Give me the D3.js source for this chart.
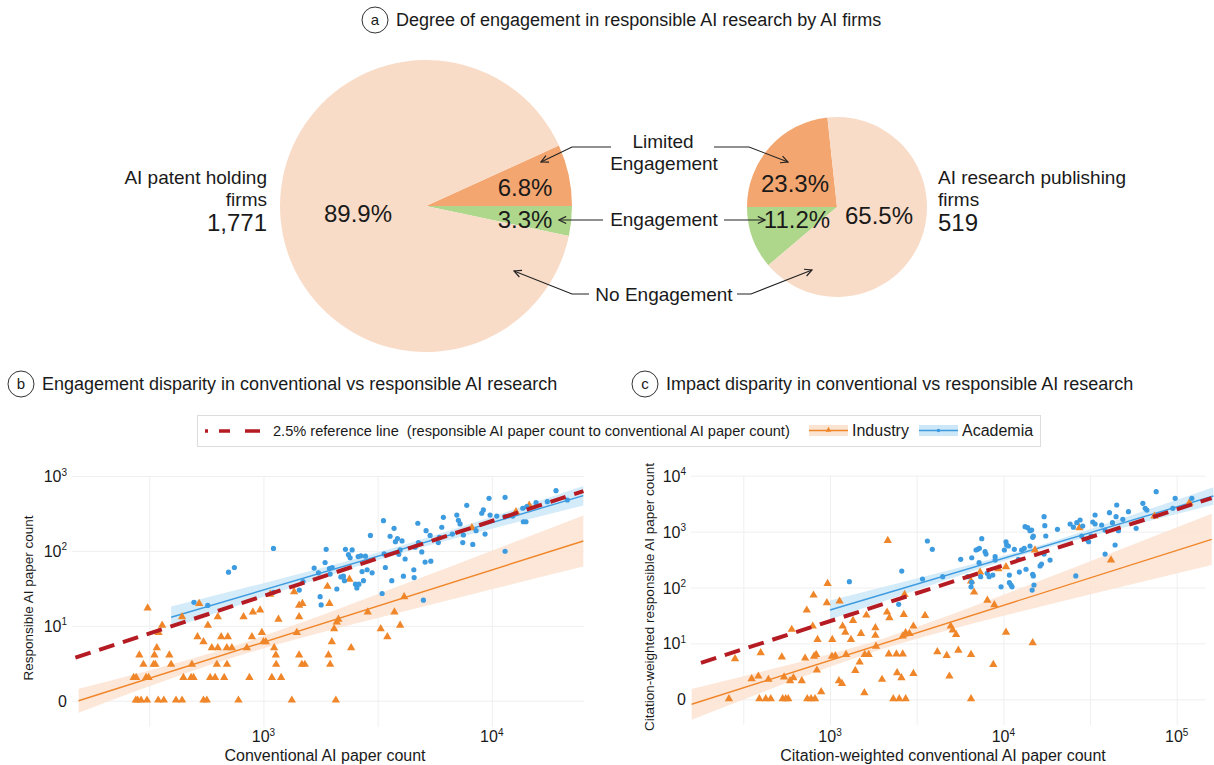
<!DOCTYPE html>
<html>
<head>
<meta charset="utf-8">
<script src="https://cdn.jsdelivr.net/npm/d3@7"></script>
<style>
body { margin: 0; background: #fff; }
svg { display: block; }
text { font-family: "Liberation Sans", Arial, Helvetica, sans-serif; fill: #1a1a1a; }
</style>
</head>
<body>
<svg id="chart" width="1214" height="765"></svg>
<script>
// ---------- data: panel a ----------
var sliceNames = ['Limited Engagement', 'Engagement', 'No Engagement'];
var patentShares = [6.8, 3.3, 89.9];
var publishingShares = [23.3, 11.2, 65.5];
var firmGroups = ['AI patent holding firms', 'AI research publishing firms'];
var firmCounts = ['1,771', '519'];

// ---------- data: panel b (conventional count, responsible count) ----------
var engAcademia = [[1106,107],[703,51],[746,59],[496,19.6],[570,17.7],[1106,27],[1435,29],[1490,38],
  [1667,58],[1741,50],[1862,69],[1882,104],[1771,23.5],[1789,18],[1945,57],[2000,59],[1959,48],[2096,30],
  [2183,44],[2240,45],[2263,39],[2286,104],[2356,88],[2397,80],[2446,102],[2529,35],[2565,31],[2617,35],
  [2598,83],[2670,85],[2704,52],[2741,39],[2797,84],[2845,55],[2941,160],[2992,50],[3353,252],[3377,90],
  [3420,59],[3309,26],[3586,156],[3648,39],[3733,199],[3784,132],[3862,145],[3968,102],[3916,89],[4046,135],
  [4173,77],[4102,45],[4555,55],[4571,43],[4743,233],[4772,128],[4937,96],[5105,70],[5156,185],[5370,160],
  [5408,72],[5018,21],[4613,111],[5834,128],[5897,151],[6040,206],[6138,280],[6723,167],[7029,300],[7143,255],
  [7263,228],[7464,128],[7510,162],[7771,405],[8257,121],[8535,185],[9037,317],[9186,351],[9346,167],[9728,503],
  [9830,300],[10517,291],[11436,518],[11436,285],[11436,98],[12360,291],[13670,370],[13750,244],[14125,244],
  [14230,388],[15630,439],[17515,453],[19120,636],[21430,477]];
var engIndustry = [[276,0],[281,0],[291,0],[309,0],[346,0],[366,0],[414,0],[440,0],[546,0],[565,0],[777,0],[1331,0],[2075,0],
  [270,1],[277,1],[306,1],[314,1],[446,1],[482,1],[494,1],[584,1],[614,1],[673,1],[868,1],[1088,1],[1195,1],
  [298,2],[330,2],[336,2],[394,2],[486,2],[625,2],[692,2],[1137,2],[1473,2],[1518,2],[1959,2],
  [286,3],[333,3],[387,3],[1133,3],[1433,3],[1926,3],
  [341,4],[594,4],[631,4],[691,4],[727,4],[846,4],[1114,4],[2421,4],
  [546,5],[1000,5],[1024,5],[1993,5],
  [514,6],[653,6],[698,6],[890,6],[3488,6],
  [347,7],[984,7],[1400,7],[2040,8],[3262,8],
  [360,9],[571,9],[3968,9],[2095,10],[1163,11],[2130,11],
  [440,12],[631,12],[818,12],[1433,12],[899,14],[2862,14],[3747,14],[967,15],[311,16],
  [1433,17.5],[523,18.5],[1481,18.5],[1946,18.5],[4133,23],[1070,25],[1362,27],[1907,32],[2380,40],
  [8184,199],[12760,326],[14590,400]];
// fitted lines and confidence bands: [x, fit, low, high]
var engIndustryFit = [[155,0,-0.445,0.445],[316,0.99,0.56,1.54],[708,3.33,2.64,4.14],[1585,8.42,6.38,11.0],
  [3981,21.9,14.2,33.4],[10000,54.6,29.7,99.6],[25180,134.6,60.9,295.5]];
var engAcademiaFit = [[394,12.0,8.31,17.07],[1000,28.96,23.2,36.1],[3548,92.5,82.4,104],
  [10000,236.7,196,285.4],[25180,545,403.6,735]];

// ---------- data: panel c (citation-weighted) ----------
var impAcademia = [[1293,126],[2593,196],[2489,49],[3644,678],[3891,481],[3416,141],[4467,155],[5675,318],
  [6231,155],[6572,340],[6572,123],[6510,102],[6958,468],[7112,481],[7271,502],[7504,745],[7244,277],[7396,155],
  [7842,436],[7940,396],[8070,178],[8280,155],[8690,166],[8966,309],[8966,355],[9700,102],[10135,468],[10360,658],
  [10447,575],[10690,552],[10830,166],[10830,121],[11070,110],[11220,102],[11570,481],[12200,318],[12360,188],
  [12750,468],[13200,502],[13510,211],[13340,1223],[13810,1174],[14250,1037],[14560,1066],[14890,834],[14760,788],
  [14250,552],[14760,171],[14890,160],[15020,110],[14660,89],[17180,1848],[17340,1275],[17570,834],[17180,396],
  [16290,242],[16600,262],[18600,309],[20510,1096],[24270,1367],[25360,1199],[26170,160],[26510,1442],[27720,1612],
  [28710,1259],[28320,834],[32800,1485],[33820,1367],[32070,834],[33820,1981],[30270,727],[31050,658],[36900,1312],
  [38630,396],[38630,1066],[40920,2177],[42590,1442],[44120,575],[44690,1848],[45090,2990],[46120,1037],[48870,1659],
  [52700,2270],[58350,1145],[63800,3207],[65800,2605],[67300,2430],[76150,5170],[98000,3943],[95000,2605],[122300,3943]];
var impIndustry = [[261,0],[391,0],[426,0],[455,0],[533,0],[555,0],[574,0],[739,0],[777,0],[819,0],[2318,0],[2508,0],[2731,0],[6510,0],
  [283,4.2],[353,1.28],[398,5.65],[441,1.22],[386,1.54],[527,4.57],[543,1.45],[588,1.09],[615,1.38],[601,16.4],
  [687,1.09],[718,4.33],[734,37.5],[803,70.3],[795,18.9],[809,4.78],[832,5.2],[840,2.25],[847,10.5],[889,0.33],
  [959,51],[968,114],[1030,10.5],[1026,4.78],[1072,4.9],[1135,54.7],[1126,1.09],[1172,0.88],[1182,18.9],[1225,14.5],
  [1237,5.2],[1321,10.5],[1357,24.2],[1399,2.2],[1482,3.52],[1509,13.7],[1578,0.28],[1585,5.2],[1621,30.3],
  [1672,5.2],[1827,12.6],[1827,17.6],[1842,7.7],[1995,1.22],[2133,34.4],[2153,678],[2201,27.1],[2183,5.3],
  [2416,5.3],[2437,1.92],[2582,1.38],[2628,5.3],[2662,31.2],[2628,12.2],[2729,14.1],[2692,72.4],[3027,18.9],
  [3027,1.84],[2871,13.7],[3532,29.9],[4161,5.93],[4714,4.96],[4884,1.54],[4970,18.9],[5105,15.9],[5337,13.1],
  [5500,6.4],[6510,5.2],[6510,126],[6776,79.7],[7337,183],[8087,57],[8750,3.1],[8870,47],[9360,211],[10360,229],
  [10360,14.5],[14760,9.04],[15220,456],[27470,1145],[41780,301],[74420,1848],[118400,3207]];
var impIndustryFit = [[159,-0.227,-1.312,0.535],[398,1.007,0.302,2.094],[1000,3.966,2.814,5.466],[1995,8.79,6.96,11.05],
  [5012,23.3,16.97,31.8],[15850,74.2,43.2,127],[50120,232,105,513],[159200,727,252,2093]];
var impAcademiaFit = [[1000,38.6,25.8,57.6],[3162,113.6,89.7,143.7],[14125,454,414,498],
  [50120,1461,1192,1792],[162900,4334,3012,6236]];

var refRatio = 0.025;
var yTickLabels = ['0', '10|1', '10|2', '10|3', '10|4'];

// ---------- colours ----------
var sliceColors = { 'Limited Engagement': '#f3a66f', 'Engagement': '#afd78c', 'No Engagement': '#f9dcc8' };
var cInd = '#f0862a', cIndBand = '#fbe3d2', cAca = '#3d9be0', cAcaBand = '#cce7f8', cRef = '#b51b22';

var svg = d3.select('#chart');

// ---------- panel labels ----------
function panelTitle(cx, cy, letter, title) {
	svg.append('circle').attr('cx', cx).attr('cy', cy).attr('r', 13)
		.attr('fill', 'none').attr('stroke', '#333').attr('stroke-width', 1);
	svg.append('text').attr('x', cx).attr('y', cy + 5).attr('text-anchor', 'middle')
		.attr('font-size', '15px').text(letter);
	svg.append('text').attr('x', cx + 21).attr('y', cy + 6).attr('font-size', '18px').text(title);
}
panelTitle(375, 20, 'a', 'Degree of engagement in responsible AI research by AI firms');
panelTitle(21, 384, 'b', 'Engagement disparity in conventional vs responsible AI research');
panelTitle(645, 384, 'c', 'Impact disparity in conventional vs responsible AI research');

// ---------- pies ----------
function drawPie(cx, cy, r, shares, order, startAngle, labelPos) {
	var data = order.map(function(i){ return { name: sliceNames[i], value: shares[i], idx: i }; });
	var pie = d3.pie().sort(null).value(function(d){ return d.value; })
		.startAngle(startAngle).endAngle(startAngle + 2 * Math.PI);
	var arc = d3.arc().innerRadius(0).outerRadius(r);
	var g = svg.append('g').attr('transform', 'translate(' + cx + ',' + cy + ')');
	g.selectAll('path').data(pie(data)).enter().append('path')
		.attr('d', arc).attr('fill', function(d){ return sliceColors[d.data.name]; });
	g.selectAll('text.pct').data(data).enter().append('text')
		.attr('class', 'pct')
		.attr('x', function(d){ return labelPos[d.idx][0]; })
		.attr('y', function(d){ return labelPos[d.idx][1] + 8.5; })
		.attr('text-anchor', 'middle').attr('font-size', '24px')
		.text(function(d){ return d.value.toFixed(1) + '%'; });
}
// left pie: slices meet at 3 o'clock
drawPie(426, 206, 146, patentShares, [0, 1, 2], Math.PI / 2 - 2 * Math.PI * patentShares[0] / 100,
	[[99, -19], [99, 13], [-68, 7]]);
// right pie: slices meet at 9 o'clock
drawPie(837, 207, 90, publishingShares, [1, 0, 2], 1.5 * Math.PI - 2 * Math.PI * publishingShares[1] / 100,
	[[-42, -24], [-40, 12], [42, 8]]);

// group labels
svg.append('text').attr('x', 267).attr('y', 184).attr('text-anchor', 'end').attr('font-size', '19px').text('AI patent holding');
svg.append('text').attr('x', 267).attr('y', 206).attr('text-anchor', 'end').attr('font-size', '19px').text('firms');
svg.append('text').attr('x', 267).attr('y', 231).attr('text-anchor', 'end').attr('font-size', '24px').text(firmCounts[0]);
svg.append('text').attr('x', 938).attr('y', 184).attr('font-size', '19px').text('AI research publishing');
svg.append('text').attr('x', 938).attr('y', 206).attr('font-size', '19px').text('firms');
svg.append('text').attr('x', 938).attr('y', 231).attr('font-size', '24px').text(firmCounts[1]);

// slice legend labels with arrows
svg.append('defs').append('marker').attr('id', 'arr')
	.attr('viewBox', '0 0 10 10').attr('refX', 9).attr('refY', 5)
	.attr('markerWidth', 9).attr('markerHeight', 9).attr('markerUnits', 'userSpaceOnUse')
	.attr('orient', 'auto')
	.append('path').attr('d', 'M1,1 L9,5 L1,9').attr('fill', 'none').attr('stroke', '#222').attr('stroke-width', 1.3);

var midLabels = [['Limited', 663, 148], ['Engagement', 664, 170], ['Engagement', 664, 226], ['No Engagement', 664, 301]];
svg.selectAll('text.mid').data(midLabels).enter().append('text').attr('class', 'mid')
	.attr('x', function(d){ return d[1]; }).attr('y', function(d){ return d[2]; })
	.attr('text-anchor', 'middle').attr('font-size', '19px').text(function(d){ return d[0]; });

var arrowPaths = ['M611,147 H572 L541,162', 'M714,147 H749 L788,162', 'M603,220 H559', 'M724,220 H765',
	'M589,294 H572 L514,271', 'M737,294 H751 L812,270'];
svg.selectAll('path.arrow').data(arrowPaths).enter().append('path').attr('class', 'arrow')
	.attr('d', function(d){ return d; }).attr('fill', 'none').attr('stroke', '#222').attr('stroke-width', 1.1)
	.attr('marker-end', 'url(#arr)');

// ---------- legend ----------
var lg = svg.append('g');
lg.append('rect').attr('x', 197.5).attr('y', 415.5).attr('width', 843).attr('height', 31)
	.attr('fill', '#fff').attr('stroke', '#dcdcdc').attr('stroke-width', 1);
lg.append('line').attr('x1', 205).attr('x2', 260).attr('y1', 431).attr('y2', 431)
	.attr('stroke', cRef).attr('stroke-width', 3.5).attr('stroke-dasharray', '3 11 11 15 15');
lg.append('text').attr('x', 273).attr('y', 436).attr('font-size', '14.6px').style('white-space', 'pre')
	.text('2.5% reference line  (responsible AI paper count to conventional AI paper count)');
function legendSwatch(x, band, col, label, tri) {
	lg.append('rect').attr('x', x).attr('y', 425).attr('width', 39).attr('height', 11).attr('fill', band);
	lg.append('line').attr('x1', x).attr('x2', x + 39).attr('y1', 430.5).attr('y2', 430.5).attr('stroke', col).attr('stroke-width', 1.5);
	if (tri) lg.append('path').attr('d', d3.symbol(d3.symbolTriangle, 14)()).attr('transform', 'translate(' + (x + 19.5) + ',430)').attr('fill', col);
	else lg.append('circle').attr('cx', x + 19.5).attr('cy', 430.5).attr('r', 1.8).attr('fill', col);
	lg.append('text').attr('x', x + 43).attr('y', 436).attr('font-size', '16px').text(label);
}
legendSwatch(809, cIndBand, cInd, 'Industry', true);
legendSwatch(919, cAcaBand, cAca, 'Academia', false);

// ---------- scatter panels ----------
function supLabel(sel, lab) {
	var parts = lab.split('|');
	sel.append('tspan').text(parts[0]);
	if (parts.length > 1) sel.append('tspan').attr('dy', '-0.65em').attr('font-size', '10px').text(parts[1]);
}

function scatterPanel(cfg) {
	var x = d3.scaleLog().domain(cfg.xDomain).range([cfg.left, cfg.right]);
	var y = d3.scaleSymlog().constant(1).domain(cfg.yDomain).range([cfg.bottom, cfg.top]);
	var g = svg.append('g');

	// grid
	g.append('g').attr('transform', 'translate(0,' + cfg.bottom + ')')
		.call(d3.axisBottom(x).tickValues(cfg.xGrid).tickSize(-(cfg.bottom - cfg.top)).tickFormat(''))
		.call(function(a){ a.select('.domain').remove(); a.selectAll('line').attr('stroke', '#efefef'); });
	g.append('g').attr('transform', 'translate(' + cfg.left + ',0)')
		.call(d3.axisLeft(y).tickValues(cfg.yTicks).tickSize(-(cfg.gridRight - cfg.left)).tickFormat(''))
		.call(function(a){ a.select('.domain').remove(); a.selectAll('line').attr('stroke', '#efefef'); });

	// tick labels
	g.selectAll('text.yl').data(cfg.yTicks).enter().append('text').attr('class', 'yl')
		.attr('x', cfg.left - 5).attr('y', function(d){ return y(d) + 6; })
		.attr('text-anchor', 'end').attr('font-size', '16px')
		.each(function(d, i){ supLabel(d3.select(this), yTickLabels[i]); });
	g.selectAll('text.xl').data(cfg.xTicks).enter().append('text').attr('class', 'xl')
		.attr('x', function(d){ return x(d); }).attr('y', 742)
		.attr('text-anchor', 'middle').attr('font-size', '16px')
		.each(function(d){ supLabel(d3.select(this), '10|' + Math.round(Math.log10(d))); });

	// axis titles
	g.append('text').attr('x', cfg.xTitleX).attr('y', 761).attr('text-anchor', 'middle')
		.attr('font-size', '16px').text(cfg.xTitle);
	g.append('text').attr('transform', 'translate(' + cfg.yTitleX + ',' + cfg.yTitleY + ') rotate(-90)')
		.attr('text-anchor', 'middle').attr('font-size', '13.5px').text(cfg.yTitle);

	// bands and fits
	var area = d3.area().curve(d3.curveMonotoneX)
		.x(function(d){ return x(d[0]); }).y0(function(d){ return y(d[2]); }).y1(function(d){ return y(d[3]); });
	var fit = d3.line().x(function(d){ return x(d[0]); }).y(function(d){ return y(d[1]); });
	g.append('path').attr('d', area(cfg.indFit)).attr('fill', cIndBand).attr('opacity', 0.85);
	g.append('path').attr('d', area(cfg.acaFit)).attr('fill', cAcaBand).attr('opacity', 0.85);
	var ends = function(a){ return [a[0], a[a.length - 1]]; };
	g.append('path').attr('d', fit(ends(cfg.indFit))).attr('fill', 'none').attr('stroke', cInd).attr('stroke-width', 1.4);
	g.append('path').attr('d', fit(ends(cfg.acaFit))).attr('fill', 'none').attr('stroke', cAca).attr('stroke-width', 1.4);

	// points
	g.selectAll('path.tri').data(cfg.ind).enter().append('path').attr('class', 'tri')
		.attr('d', d3.symbol(d3.symbolTriangle, 30)())
		.attr('transform', function(d){ return 'translate(' + x(d[0]) + ',' + (y(d[1]) - 0.5) + ')'; })
		.attr('fill', cInd);
	g.selectAll('circle.dot').data(cfg.aca).enter().append('circle').attr('class', 'dot')
		.attr('cx', function(d){ return x(d[0]); }).attr('cy', function(d){ return y(d[1]); })
		.attr('r', 2.6).attr('fill', cAca);

	// 2.5% reference line, drawn as log10(ratio * x) on the log10(1 + y) axis
	var refX = cfg.refRange;
	g.append('line')
		.attr('x1', x(refX[0])).attr('y1', y(refX[0] * refRatio - 1))
		.attr('x2', x(refX[1])).attr('y2', y(refX[1] * refRatio - 1))
		.attr('stroke', cRef).attr('stroke-width', 4).attr('stroke-dasharray', '16 9');
}

scatterPanel({
	left: 72, right: 584, gridRight: 584, top: 476, bottom: 727,
	xDomain: [145, 25350], yDomain: [-1.244, 999],
	xGrid: [316, 1000, 3162, 10000], xTicks: [1000, 10000], yTicks: [0, 9, 99, 999],
	xTitle: 'Conventional AI paper count', xTitleX: 325,
	yTitle: 'Responsible AI paper count', yTitleX: 33, yTitleY: 598,
	ind: engIndustry, aca: engAcademia, indFit: engIndustryFit, acaFit: engAcademiaFit,
	refRange: [150, 25200]
});
scatterPanel({
	left: 691, right: 1213, gridRight: 1206, top: 475.7, bottom: 725,
	xDomain: [157.7, 162000], yDomain: [-1.88, 9999],
	xGrid: [316, 1000, 3162, 10000, 31623, 100000], xTicks: [1000, 10000, 100000], yTicks: [0, 9, 99, 999, 9999],
	xTitle: 'Citation-weighted conventional AI paper count', xTitleX: 943,
	yTitle: 'Citation-weighted responsible AI paper count', yTitleX: 654, yTitleY: 597,
	ind: impIndustry, aca: impAcademia, indFit: impIndustryFit, acaFit: impAcademiaFit,
	refRange: [180, 159000]
});
</script>
</body>
</html>
